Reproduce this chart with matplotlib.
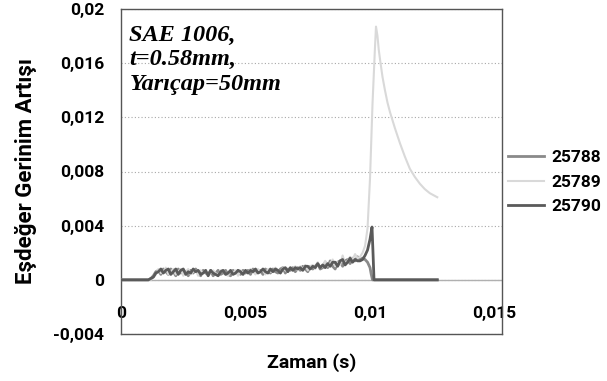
import numpy as np
import matplotlib
matplotlib.use("Agg")
import matplotlib.pyplot as plt

# ---- data (strain values in units of 1e-4) ----
t_start = [0.0, 0.0010]
noise_t0 = 0.0011
noise_dt = 0.0001

n25788 = [0, 1, 3, 6, 7, 4, 8, 6, 4, 8,
          6, 3, 8, 5, 7, 6, 3, 7, 5, 8,
          5, 3, 7, 5, 4, 7, 3, 5, 7, 4,
          5, 7, 4, 3, 7, 5, 7, 4, 7, 5,
          7, 4, 8, 5, 6, 7, 4, 8, 6, 5,
          8, 6, 5, 8, 9, 5, 8, 7, 9, 6,
          9, 7, 10, 8, 6, 10, 8, 10, 12, 8,
          9, 13, 9, 14, 10, 8, 13, 14, 10, 14,
          15, 12, 16, 14, 17]
n25789 = [0, 0, 2, 4, 8, 5, 6, 9, 4, 6,
          8, 4, 6, 8, 3, 6, 8, 4, 6, 7,
          3, 7, 5, 7, 3, 5, 7, 5, 3, 7,
          7, 4, 3, 7, 5, 7, 3, 7, 5, 7,
          5, 8, 6, 4, 8, 6, 7, 4, 8, 6,
          6, 9, 7, 5, 9, 7, 6, 9, 7, 10,
          7, 10, 8, 11, 7, 10, 11, 8, 13, 9,
          10, 14, 10, 12, 15, 10, 13, 11, 18, 12,
          14, 17, 15, 19, 16]
n25790 = [0, 1, 2, 5, 6, 8, 5, 7, 8, 4,
          6, 8, 4, 7, 8, 4, 6, 5, 8, 6,
          7, 4, 5, 7, 3, 7, 5, 4, 3, 6,
          7, 4, 5, 7, 4, 5, 7, 6, 4, 7,
          5, 7, 6, 8, 5, 6, 8, 6, 5, 8,
          6, 8, 7, 5, 8, 9, 6, 9, 7, 9,
          8, 9, 7, 10, 10, 8, 10, 9, 12, 9,
          11, 9, 12, 10, 13, 13, 10, 14, 15, 11,
          13, 16, 13, 15, 14]

tail25788_t = [0.0096, 0.0097, 0.0098, 0.0099, 0.0100, 0.01005, 0.0101, 0.0127]
tail25788_v = [15, 16, 15, 13, 9, 4, 0, 0]
tail25789_t = [0.0096, 0.0097, 0.0098, 0.0099, 0.0100, 0.0101, 0.0102, 0.01024,
               0.0103, 0.01035, 0.0104, 0.0105, 0.0106, 0.0107, 0.0108, 0.0109,
               0.0110, 0.0112, 0.0114, 0.0116, 0.0118, 0.0120, 0.0122, 0.0124,
               0.0126, 0.0127]
tail25789_v = [17, 20, 25, 38, 75, 130, 172, 187,
               180, 170, 163, 150, 140, 131, 124, 118,
               112, 101, 91, 82, 76, 71, 67, 64,
               62, 61]
tail25790_t = [0.0096, 0.0097, 0.0098, 0.0099, 0.0100, 0.01008, 0.01012, 0.01016, 0.0127]
tail25790_v = [14, 15, 18, 22, 30, 39, 20, 0, 0]

labels = ["25788", "25789", "25790"]
colors = ["#8a8a8a", "#d9d9d9", "#5a5a5a"]
widths = [2.0, 1.5, 2.0]

yticks = [-0.004, 0, 0.004, 0.008, 0.012, 0.016, 0.02]
ytick_labels = ["-0,004", "0", "0,004", "0,008", "0,012", "0,016", "0,02"]
xticks = [0, 0.005, 0.01, 0.015]
xtick_labels = ["0", "0,005", "0,01", "0,015"]


def build(noise, tt, tv):
    nt = noise_t0 + noise_dt * np.arange(len(noise))
    t = np.concatenate([t_start, nt, tt])
    v = np.concatenate([[0, 0], np.array(noise, float), np.array(tv, float)]) * 1e-4
    return t, v


series = [build(n25788, tail25788_t, tail25788_v),
          build(n25789, tail25789_t, tail25789_v),
          build(n25790, tail25790_t, tail25790_v)]

fig = plt.figure(figsize=(6.07, 3.81), dpi=100)
ax = fig.add_axes([121 / 607, 1 - 334 / 381, (502 - 121) / 607, (334 - 9) / 381])

ax.set_ylim(-0.004, 0.02)
ax.set_xlim(0, 0.0153)
ax.set_yticks(yticks)
ax.set_xticks(xticks)
tf = dict(family="Roboto", weight="bold", size=12.5)
ax.set_yticklabels(ytick_labels, fontdict=tf)
ax.set_xticklabels(xtick_labels, fontdict=tf)
ax.tick_params(axis="both", length=0)
ax.tick_params(axis="y", pad=12)
ax.tick_params(axis="x", pad=-20)

ax.grid(axis="y", linestyle=(0, (1, 2)), color="#a8a8a8", linewidth=0.8)
ax.set_axisbelow(True)
ax.axhline(0, color="#b0b0b0", linewidth=1.0, zorder=1)
for s in ax.spines.values():
    s.set_color("#555555")
    s.set_linewidth(1.0)

lines = []
for (t, v), lab, c, w in zip(series, labels, colors, widths):
    ln, = ax.plot(t, v, color=c, linewidth=w, label=lab, zorder=3)
    lines.append(ln)

ax.set_ylabel("Eşdeğer Gerinim Artışı", family="Roboto", weight="bold", size=16, labelpad=12)
ax.set_xlabel("Zaman (s)", family="Roboto", weight="bold", size=14, labelpad=14)

ax.text(0.022, 0.95, "SAE 1006,\nt=0.58mm,\nYarıçap=50mm", transform=ax.transAxes,
        family="Liberation Serif", style="italic", weight="bold", size=17.5,
        va="top", ha="left", linespacing=1.2)

fig.legend(handles=lines, labels=labels, loc="center left",
           bbox_to_anchor=(508 / 607, 1 - 182 / 381), frameon=False,
           borderaxespad=0, borderpad=0,
           prop=dict(family="Roboto", weight="bold", size=12.5),
           handlelength=2.1, handletextpad=0.4, labelspacing=0.55)

fig.savefig("out.png", dpi=100)
